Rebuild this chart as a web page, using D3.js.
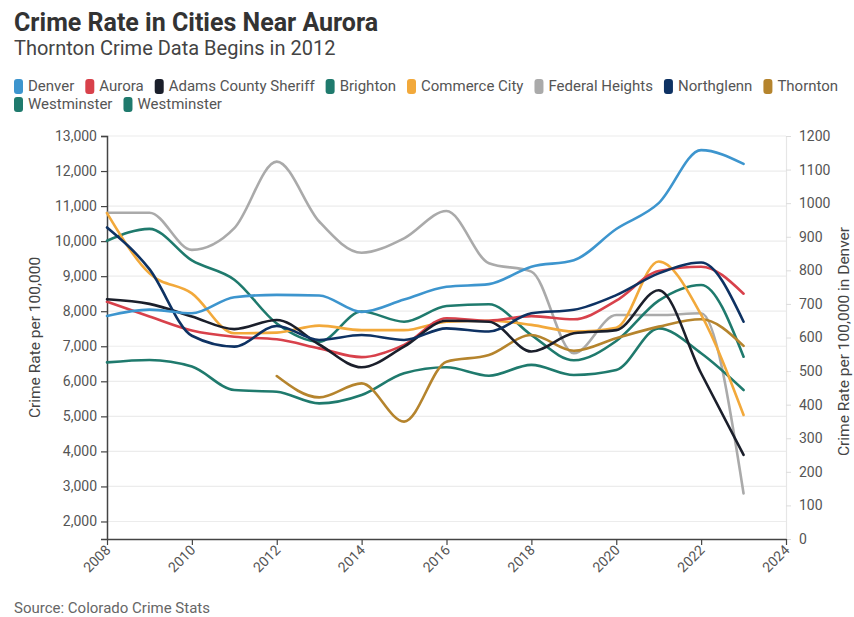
<!DOCTYPE html>
<html>
<head>
<meta charset="utf-8">
<script src="https://cdn.jsdelivr.net/npm/d3@7"></script>
<style>
  html, body { margin: 0; padding: 0; background: #fff; }
  svg { display: block; font-family: Roboto, "Noto Sans", sans-serif; }
</style>
</head>
<body>
<svg id="chart" width="854" height="617"></svg>
<script>
const years = [2008, 2009, 2010, 2011, 2012, 2013, 2014, 2015, 2016, 2017, 2018, 2019, 2020, 2021, 2022, 2023];

// Denver is read on the right-hand axis
const denver = [664, 683, 672, 720, 727, 725, 676, 713, 751, 759, 811, 830, 923, 1000, 1158, 1117];
const aurora = [8270, 7850, 7450, 7270, 7200, 6940, 6690, 7040, 7800, 7730, 7860, 7770, 8300, 9150, 9270, 8500];
const adamsCountySheriff = [8340, 8210, 7850, 7490, 7750, 7050, 6400, 6990, 7730, 7700, 6850, 7370, 7460, 8600, 6230, 3900];
const brighton = [6540, 6610, 6420, 5750, 5700, 5370, 5610, 6230, 6400, 6160, 6470, 6180, 6320, 7510, 6800, 5750];
const commerceCity = [10800, 9080, 8510, 7370, 7390, 7590, 7460, 7460, 7700, 7730, 7610, 7420, 7530, 9420, 7900, 5040];
const federalHeights = [10810, 10810, 9750, 10370, 12270, 10560, 9670, 10080, 10860, 9370, 9130, 6800, 7890, 7890, 7940, 2800];
const northglenn = [10390, 9200, 7300, 6990, 7580, 7180, 7320, 7180, 7510, 7420, 7940, 8040, 8460, 9080, 9390, 7700];
const thornton = [null, null, null, null, 6150, 5540, 5940, 4850, 6560, 6750, 7320, 6870, 7230, 7560, 7770, 7010];
const westminster = [10010, 10350, 9450, 8900, 7650, 7130, 7990, 7700, 8150, 8200, 7320, 6600, 7150, 8300, 8750, 6700];
const westminster2 = [null, null, null, null, null, null, null, null, null, null, null, null, null, null, null, null];

const seriesNames = ["Denver", "Aurora", "Adams County Sheriff", "Brighton", "Commerce City", "Federal Heights", "Northglenn", "Thornton", "Westminster", "Westminster"];
const seriesColors = ["#3d95ce", "#d8414b", "#1b1f2b", "#1f7a6d", "#f2a93b", "#aaaaaa", "#0e3263", "#b5842d", "#1f7a6d", "#1f7a6d"];
const seriesValues = [denver, aurora, adamsCountySheriff, brighton, commerceCity, federalHeights, northglenn, thornton, westminster, westminster2];
const seriesAxis = ["right", "left", "left", "left", "left", "left", "left", "left", "left", "left"];

const xTicks = [2008, 2010, 2012, 2014, 2016, 2018, 2020, 2022, 2024];
const leftTicks = [2000, 3000, 4000, 5000, 6000, 7000, 8000, 9000, 10000, 11000, 12000, 13000];
const rightTicks = [0, 100, 200, 300, 400, 500, 600, 700, 800, 900, 1000, 1100, 1200];

const title = "Crime Rate in Cities Near Aurora";
const subtitle = "Thornton Crime Data Begins in 2012";
const leftLabel = "Crime Rate per 100,000";
const rightLabel = "Crime Rate per 100,000 in Denver";
const source = "Source: Colorado Crime Stats";

const svg = d3.select("#chart");
const M = { left: 107, right: 786, top: 136, bottom: 539 };

const x = d3.scaleLinear().domain([2008, 2024]).range([M.left, M.right]);
const yL = d3.scaleLinear().domain([1500, 13000]).range([M.bottom, M.top]);
const yR = d3.scaleLinear().domain([0, 1200]).range([M.bottom, M.top]);

// Title and subtitle
svg.append("text").attr("x", 14).attr("y", 31).text(title)
  .attr("font-size", 25).attr("font-weight", 700).attr("fill", "#333");
svg.append("text").attr("x", 14).attr("y", 55).text(subtitle)
  .attr("font-size", 20).attr("fill", "#444");

// Legend
const legend = svg.append("g").attr("font-size", 15).attr("fill", "#555");
let lx = 14, ly = 86;
seriesNames.forEach((name, i) => {
  const g = legend.append("g");
  const t = g.append("text").attr("y", ly + 5).text(name).attr("fill", "#555");
  const w = t.node().getComputedTextLength();
  if (lx + 14 + w > 848) { lx = 14; ly += 18; t.attr("y", ly + 5); }
  g.append("rect").attr("x", lx).attr("y", ly - 7).attr("width", 9).attr("height", 15).attr("rx", 3)
    .attr("fill", seriesColors[i]);
  t.attr("x", lx + 14);
  lx += 14 + w + 11;
});

// Gridlines
svg.append("g").selectAll("line").data(leftTicks).join("line")
  .attr("x1", M.left).attr("x2", M.right)
  .attr("y1", d => yL(d)).attr("y2", d => yL(d))
  .attr("stroke", "#ececec").attr("stroke-width", 1.2);

// Left axis
const axL = svg.append("g").attr("transform", `translate(${M.left},0)`)
  .call(d3.axisLeft(yL).tickValues(leftTicks).tickFormat(d3.format(",")).tickSize(6).tickPadding(4));
axL.select(".domain").attr("stroke", "#444").attr("stroke-width", 1.5);
axL.selectAll(".tick line").attr("stroke", "#444").attr("stroke-width", 1.2);
axL.selectAll("text").attr("font-size", 14).attr("fill", "#555").attr("font-family", "Roboto, sans-serif");

// Right axis
const axR = svg.append("g").attr("transform", `translate(${M.right},0)`)
  .call(d3.axisRight(yR).tickValues(rightTicks).tickFormat(d3.format("d")).tickSize(5).tickPadding(8));
axR.select(".domain").attr("stroke", "#e6e6e6").attr("stroke-width", 1.2);
axR.selectAll(".tick line").attr("stroke", "#dcdcdc");
axR.selectAll("text").attr("font-size", 14).attr("fill", "#555").attr("font-family", "Roboto, sans-serif");

// Bottom axis
const axB = svg.append("g").attr("transform", `translate(0,${M.bottom})`)
  .call(d3.axisBottom(x).tickValues(xTicks).tickFormat(d3.format("d")).tickSize(6).tickSizeOuter(0));
axB.select(".domain").attr("stroke", "#444").attr("stroke-width", 1.5);
axB.selectAll(".tick line").attr("stroke", "#444").attr("stroke-width", 1.2);
axB.selectAll("text").attr("font-size", 14).attr("fill", "#555").attr("font-family", "Roboto, sans-serif")
  .attr("text-anchor", "end").attr("dy", null).attr("y", 0)
  .attr("transform", "translate(4,12) rotate(-45)");

// Axis titles
svg.append("text").attr("transform", `translate(40,${(M.top + M.bottom) / 2}) rotate(-90)`)
  .attr("text-anchor", "middle").attr("font-size", 15.5).attr("fill", "#444").text(leftLabel);
svg.append("text").attr("transform", `translate(849,${(M.top + M.bottom) / 2 + 4}) rotate(-90)`)
  .attr("text-anchor", "middle").attr("font-size", 15.5).attr("fill", "#444").text(rightLabel);

// Lines
const drawOrder = [5, 3, 8, 9, 7, 4, 1, 2, 6, 0];
const lines = svg.append("g").attr("fill", "none").attr("stroke-width", 2.6)
  .attr("stroke-linejoin", "round").attr("stroke-linecap", "round");
drawOrder.forEach(i => {
  const ys = seriesAxis[i] === "right" ? yR : yL;
  const pts = years.map((yr, k) => [yr, seriesValues[i][k]]).filter(p => p[1] != null);
  if (!pts.length) return;
  const gen = d3.line().x(p => x(p[0])).y(p => ys(p[1])).curve(d3.curveMonotoneX);
  lines.append("path").attr("d", gen(pts)).attr("stroke", seriesColors[i]);
});

// Source
svg.append("text").attr("x", 14).attr("y", 613).attr("font-size", 15).attr("fill", "#666").text(source);
</script>
</body>
</html>
